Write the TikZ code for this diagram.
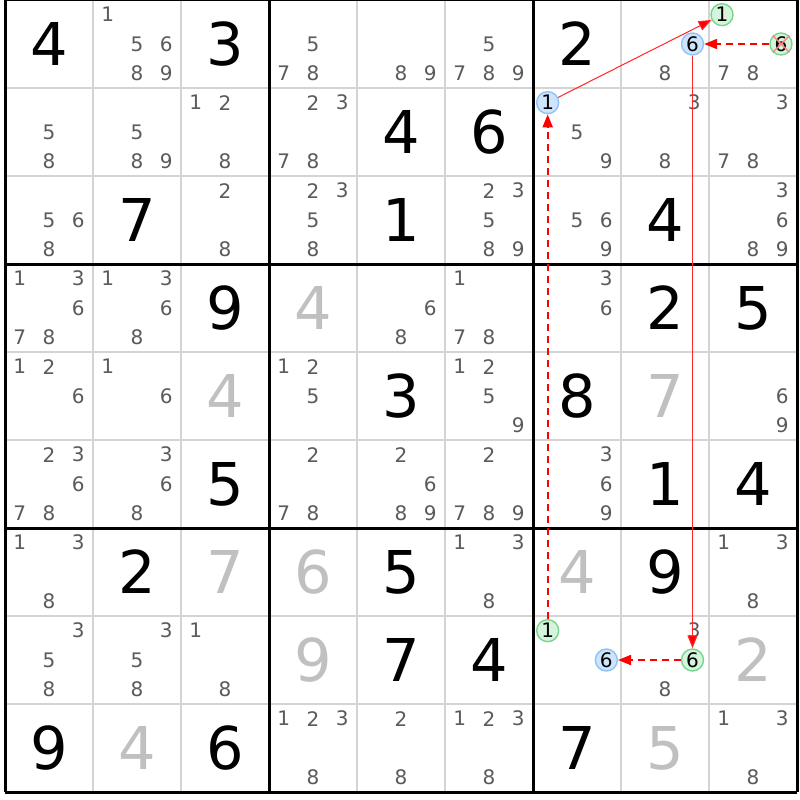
\documentclass[tikz,border=0pt]{standalone}
\usepackage{fontspec}
\setmainfont{DejaVu Sans}
\usepackage{tikz}
\usetikzlibrary{arrows.meta}

\definecolor{candgray}{RGB}{90,90,90}
\definecolor{solvedgray}{RGB}{192,192,192}
\definecolor{gridgray}{RGB}{212,212,212}
\definecolor{onfill}{RGB}{206,228,252}
\definecolor{ondraw}{RGB}{140,196,248}
\definecolor{offfill}{RGB}{212,244,220}
\definecolor{offdraw}{RGB}{120,214,140}
\definecolor{chainred}{RGB}{255,0,0}

\begin{document}
\begin{tikzpicture}[x=1pt, y=-1pt,
    given/.style={inner sep=0pt, font=\fontsize{59}{59}\selectfont},
    solved/.style={given, text=solvedgray},
    cand/.style={inner sep=0pt, text=candgray, font=\fontsize{20}{20}\selectfont},
    oncand/.style={circle, draw=ondraw, fill=onfill, line width=1.4pt, minimum size=22pt, inner sep=0pt, font=\fontsize{20}{20}\selectfont},
    offcand/.style={oncand, draw=offdraw, fill=offfill},
    strong/.style={draw=chainred!85!white, line width=1pt, -{Triangle[length=13pt,width=10pt,fill=chainred]}},
    weak/.style={draw=chainred, line width=2pt, dash pattern=on 7pt off 5pt, -{Triangle[length=13pt,width=10pt,fill=chainred]}}]
        \useasboundingbox[fill=white] (0,0) rectangle (800,800);

        % Grid.
        \foreach \i in {1,2,4,5,7,8} {
            \draw[gridgray, line width=1.6pt] ({5+88*\i},0) -- ({5+88*\i},792);
            \draw[gridgray, line width=1.6pt] (5,{88*\i}) -- (797,{88*\i});
        }
        \foreach \i in {0,3,6,9} {
            \draw[black, line width=3pt] ({5+88*\i},0) -- ({5+88*\i},792);
            \draw[black, line width=3pt] (5,{88*\i}) -- (797,{88*\i});
        }

        % Givens.
        \foreach \r/\c/\d in {1/1/4, 1/3/3, 1/7/2, 2/5/4, 2/6/6, 3/2/7, 3/5/1, 3/8/4,
                4/3/9, 4/8/2, 4/9/5, 5/5/3, 5/7/8, 6/3/5, 6/8/1, 6/9/4, 7/2/2, 7/5/5,
                7/8/9, 8/5/7, 8/6/4, 9/1/9, 9/3/6, 9/7/7}
            \node[given] (g\r\c) at ({5+88*(\c-0.5)},{88*(\r-0.5)}) {\d};

        % Solved.
        \foreach \r/\c/\d in {4/4/4, 5/3/4, 5/8/7, 7/3/7, 7/4/6, 7/7/4, 8/4/9, 8/9/2,
                9/2/4, 9/8/5}
            \node[solved] (s\r\c) at ({5+88*(\c-0.5)},{88*(\r-0.5)}) {\d};

        % Candidates.
        \foreach \r/\c/\l in {1/2/{1,5,6,8,9}, 1/4/{5,7,8}, 1/5/{8,9}, 1/6/{5,7,8,9},
                1/8/{8}, 1/9/{7,8}, 2/1/{5,8}, 2/2/{5,8,9}, 2/3/{1,2,8}, 2/4/{2,3,7,8},
                2/7/{5,9}, 2/8/{3,8}, 2/9/{3,7,8}, 3/1/{5,6,8}, 3/3/{2,8}, 3/4/{2,3,5,8},
                3/6/{2,3,5,8,9}, 3/7/{5,6,9}, 3/9/{3,6,8,9}, 4/1/{1,3,6,7,8},
                4/2/{1,3,6,8}, 4/5/{6,8}, 4/6/{1,7,8}, 4/7/{3,6}, 5/1/{1,2,6}, 5/2/{1,6},
                5/4/{1,2,5}, 5/6/{1,2,5,9}, 5/9/{6,9}, 6/1/{2,3,6,7,8}, 6/2/{3,6,8},
                6/4/{2,7,8}, 6/5/{2,6,8,9}, 6/6/{2,7,8,9}, 6/7/{3,6,9}, 7/1/{1,3,8},
                7/6/{1,3,8}, 7/9/{1,3,8}, 8/1/{3,5,8}, 8/2/{3,5,8}, 8/3/{1,8}, 8/8/{3,8},
                9/4/{1,2,3,8}, 9/5/{2,8}, 9/6/{1,2,3,8}, 9/9/{1,3,8}}
            \foreach \d in \l
                \node[cand] (n\r\c\d) at ({5+88*(\c-1)+88/3*(mod(\d-1,3)+0.5)},{88*(\r-1)+88/3*(floor((\d-1)/3)+0.5)}) {\d};

        %chain
        \node[oncand] (n271) at (547.67,102.67) {1};
        \node[offcand] (n871) at (547.67,630.67) {1};
        \node[oncand] (n876) at (606.33,660) {6};
        \node[offcand] (n191) at (722,14.67) {1};
        \node[offcand] (n196) at (781,44) {6};
        \node[oncand] (n186) at (692.5,44) {6};
        \node[offcand] (n886) at (692.5,660) {6};
        \draw[red!50!white, line width=1.4pt] (n196.north west) -- (n196.south east)
            (n196.north east) -- (n196.south west);

        \draw[weak] (n871) -- (n271);
        \draw[strong] (n271) -- (n191);
        \draw[weak] (n196) -- (n186);
        \draw[strong] (n186) -- (n886);
        \draw[weak] (n886) -- (n876);

    \end{tikzpicture}
\end{document}
